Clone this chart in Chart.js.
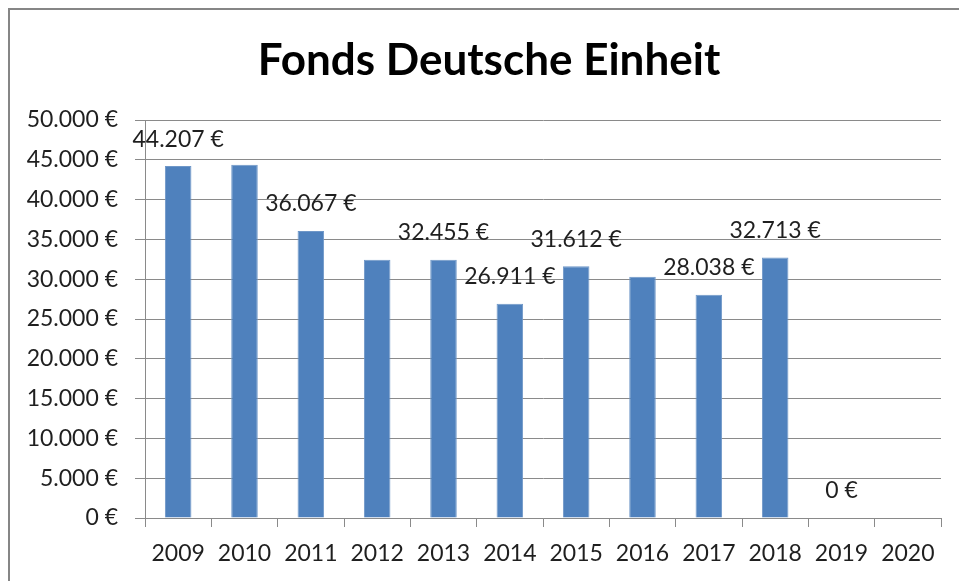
<!DOCTYPE html>
<html>
<head>
<meta charset="utf-8">
<script src="https://cdn.jsdelivr.net/npm/chart.js@4"></script>
<style>
  html, body { margin: 0; padding: 0; background: #fff; }
  #wrap { width: 959px; height: 581px; }
</style>
</head>
<body>
<div id="wrap"><canvas id="chart"></canvas></div>
<script>
// Daten
const years = ['2009', '2010', '2011', '2012', '2013', '2014', '2015', '2016', '2017', '2018', '2019', '2020'];
const amounts = [44207, 44370, 36067, 32450, 32455, 26911, 31612, 30300, 28038, 32713, 0, null];
// welche Balken beschriftet sind (im Original fehlen einige)
const showValue = [true, false, true, false, true, true, true, false, true, true, true, false];
const yTicks = [0, 5000, 10000, 15000, 20000, 25000, 30000, 35000, 40000, 45000, 50000];
const chartTitle = 'Fonds Deutsche Einheit';

const FONT = 'Lato, "Open Sans", sans-serif';
const TEXT = '#1f1f1f';
const GRID = '#8a8a8a';

// 44207 -> "44.207 €"
function euro(v) {
    return String(v).replace(/\B(?=(\d{3})+(?!\d))/g, '.') + ' €';
}

// Rahmen + Titel
const framePlugin = {
    id: 'frame',
    beforeDraw(chart) {
        const ctx = chart.ctx;
        ctx.save();
        ctx.fillStyle = '#fff';
        ctx.fillRect(0, 0, chart.width, chart.height);
        ctx.strokeStyle = '#868686';
        ctx.lineWidth = 2;
        ctx.strokeRect(9, 9, chart.width + 20, chart.height + 20);
        ctx.fillStyle = '#000';
        ctx.font = 'bold 44px ' + FONT;
        ctx.textAlign = 'center';
        ctx.textBaseline = 'alphabetic';
        ctx.fillText(chartTitle, 489, 75);
        ctx.restore();
    }
};

// Werte über den Balken
const valueLabels = {
    id: 'valueLabels',
    afterDatasetsDraw(chart) {
        const ctx = chart.ctx;
        const meta = chart.getDatasetMeta(0);
        ctx.save();
        ctx.font = '23px ' + FONT;
        ctx.fillStyle = TEXT;
        ctx.textAlign = 'center';
        ctx.textBaseline = 'middle';
        meta.data.forEach((bar, i) => {
            if (!showValue[i] || amounts[i] === null) return;
            ctx.fillText(euro(amounts[i]), bar.x, bar.y - 27);
        });
        ctx.restore();
    }
};

new Chart(document.getElementById('chart'), {
    type: 'bar',
    data: {
        labels: years,
        datasets: [{
            data: amounts,
            backgroundColor: '#4f81bd',
            borderColor: '#6f97c8',
            borderWidth: 1,
            barPercentage: 0.4,
            categoryPercentage: 1
        }]
    },
    options: {
        responsive: true,
        maintainAspectRatio: false,
        animation: false,
        layout: { padding: { left: 8, right: 18, top: 120, bottom: 0 } },
        plugins: {
            legend: { display: false },
            tooltip: { enabled: false },
            title: { display: false }
        },
        scales: {
            x: {
                offset: true,
                grid: {
                    offset: true,
                    drawOnChartArea: false,
                    drawTicks: true,
                    tickLength: 9,
                    color: GRID
                },
                border: { display: true, color: GRID, width: 1 },
                ticks: {
                    color: TEXT,
                    font: { family: FONT, size: 23 },
                    padding: 13,
                    maxRotation: 0,
                    autoSkip: false
                },
                afterFit(scale) { scale.height = 63; }
            },
            y: {
                min: 0,
                max: 50000,
                afterBuildTicks(scale) {
                    scale.ticks = yTicks.map(v => ({ value: v }));
                },
                grid: {
                    color: GRID,
                    drawTicks: true,
                    tickLength: 10
                },
                border: { display: true, color: GRID, width: 1 },
                ticks: {
                    color: TEXT,
                    font: { family: FONT, size: 23 },
                    padding: 17,
                    callback: v => euro(v)
                },
                afterFit(scale) { scale.width = 137; }
            }
        }
    },
    plugins: [framePlugin, valueLabels]
});
</script>
</body>
</html>
